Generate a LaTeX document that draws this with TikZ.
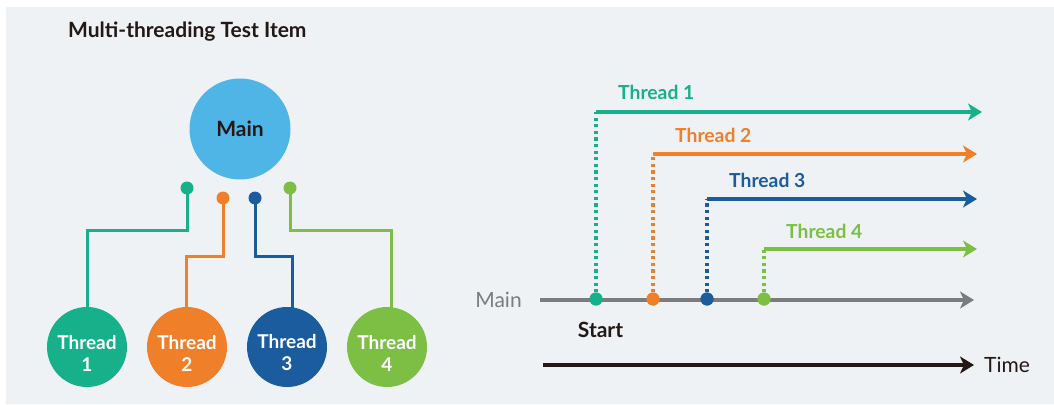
\documentclass[tikz,border=0pt]{standalone}
\usepackage{fontspec}
\setmainfont{Lato}
\usetikzlibrary{arrows.meta}
\definecolor{bg}{HTML}{EEF2F5}
\definecolor{cteal}{HTML}{16B08B}
\definecolor{corange}{HTML}{F07F2A}
\definecolor{cblue}{HTML}{1A5C9E}
\definecolor{cgreen}{HTML}{7DBE45}
\definecolor{clight}{HTML}{4FB5E6}
\definecolor{cgray}{HTML}{7B7C7E}
\definecolor{cdark}{HTML}{231815}
\tikzset{
  dotnode/.style={circle, inner sep=0pt, minimum size=13pt},
  thr/.style={circle, inner sep=0pt, minimum size=80pt},
  wire/.style={line width=3pt, line join=miter},
  tline/.style={line width=3.2pt, -{Stealth[length=14pt,width=17pt,inset=4pt]}},
  dotline/.style={line width=3.4pt, dash pattern=on 3.2pt off 3.4pt},
  thrtext/.style={text=white, font=\fontsize{19}{22}\selectfont\bfseries, align=center},
  tlabel/.style={inner sep=0pt, font=\fontsize{19.3}{22}\selectfont\bfseries},
}
\begin{document}
\begin{tikzpicture}[x=1pt,y=-1pt]
\useasboundingbox (0,0) rectangle (1054,404);
\fill[bg] (6,7) rectangle (1054,404);
% title
\node[anchor=west, inner sep=0pt, text=cdark, font=\fontsize{21}{24}\selectfont\bfseries] (title) at (68,32) {Multi-threading Test Item};
% main circle
\node[circle, fill=clight, minimum size=101pt, inner sep=0pt, text=cdark, font=\fontsize{21}{24}\selectfont\bfseries] (main) at (240,129) {Main};
% connectors
\coordinate (c1a) at (187,230); \coordinate (c1b) at (87,230); \coordinate (c1c) at (87,330);
\coordinate (c2a) at (223,256); \coordinate (c2b) at (186,256); \coordinate (c2c) at (186,330);
\coordinate (c3a) at (255,256); \coordinate (c3b) at (292,256); \coordinate (c3c) at (292,330);
\coordinate (c4a) at (290,230); \coordinate (c4b) at (391,230); \coordinate (c4c) at (391,330);
\node[dotnode, fill=cteal] (d1) at (187,188) {};
\node[dotnode, fill=corange] (d2) at (223,198) {};
\node[dotnode, fill=cblue] (d3) at (255,198) {};
\node[dotnode, fill=cgreen] (d4) at (290,188) {};
\draw[wire, cteal] (d1.center) -- (c1a) -- (c1b) -- (c1c);
\draw[wire, corange] (d2.center) -- (c2a) -- (c2b) -- (c2c);
\draw[wire, cblue] (d3.center) -- (c3a) -- (c3b) -- (c3c);
\draw[wire, cgreen] (d4.center) -- (c4a) -- (c4b) -- (c4c);
% thread circles
\node[thr, fill=cteal] (t1) at (87,347) {};
\node[thr, fill=corange] (t2) at (187,347) {};
\node[thr, fill=cblue] (t3) at (287,347) {};
\node[thr, fill=cgreen] (t4) at (387,347) {};
\node[thrtext] (l1) at (87,353) {Thread\\1};
\node[thrtext] (l2) at (187,353) {Thread\\2};
\node[thrtext] (l3) at (287,353) {Thread\\3};
\node[thrtext] (l4) at (387,353) {Thread\\4};
% timeline
\node[text=cgray, inner sep=0pt, font=\fontsize{21}{24}\selectfont] (mainlbl) at (498.5,300) {Main};
\coordinate (ms) at (540,300); \coordinate (me) at (974,300);
\draw[cgray, line width=3.5pt, -{Stealth[length=14pt,width=17pt,inset=4pt]}] (ms) -- (me);
\coordinate (h1) at (596,112); \coordinate (e1) at (982,112);
\coordinate (h2) at (653,154); \coordinate (e2) at (977,154);
\coordinate (h3) at (707,199); \coordinate (e3) at (977,199);
\coordinate (h4) at (764,249); \coordinate (e4) at (977,249);
\node[dotnode, fill=cteal] (s1) at (596,299) {};
\node[dotnode, fill=corange] (s2) at (653,299) {};
\node[dotnode, fill=cblue] (s3) at (707,299) {};
\node[dotnode, fill=cgreen] (s4) at (764,299) {};
\draw[dotline, cteal] (s1.center) -- (h1);
\draw[dotline, corange] (s2.center) -- (h2);
\draw[dotline, cblue] (s3.center) -- (h3);
\draw[dotline, cgreen] (s4.center) -- (h4);
\draw[tline, cteal] (h1) -- (e1);
\draw[tline, corange] (h2) -- (e2);
\draw[tline, cblue] (h3) -- (e3);
\draw[tline, cgreen] (h4) -- (e4);
\node[dotnode, fill=cteal] at (s1) {};
\node[dotnode, fill=corange] at (s2) {};
\node[dotnode, fill=cblue] at (s3) {};
\node[dotnode, fill=cgreen] at (s4) {};
\node[tlabel, text=cteal, anchor=west] (tl1) at (618,92) {Thread 1};
\node[tlabel, text=corange, anchor=west] (tl2) at (675,135) {Thread 2};
\node[tlabel, text=cblue, anchor=west] (tl3) at (729,180) {Thread 3};
\node[tlabel, text=cgreen, anchor=west] (tl4) at (786,231) {Thread 4};
\node[inner sep=0pt, text=cdark, font=\fontsize{21}{24}\selectfont\bfseries] (start) at (600.5,330) {Start};
% time
\coordinate (ts) at (543,365); \coordinate (te) at (974,365);
\draw[cdark, line width=3.5pt, -{Stealth[length=14pt,width=17pt,inset=4pt]}] (ts) -- (te);
\node[anchor=west, inner sep=0pt, text=cdark, font=\fontsize{21}{24}\selectfont] (time) at (984,365) {Time};
\end{tikzpicture}
\end{document}
